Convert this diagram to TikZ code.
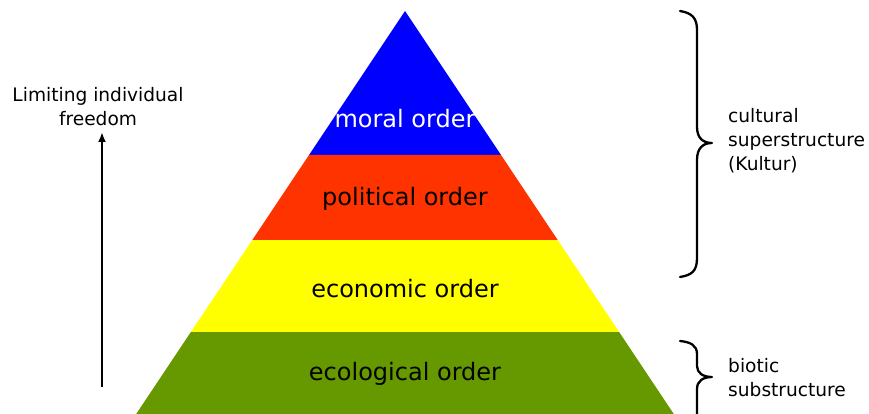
\documentclass[tikz,border=0pt]{standalone}
\usepackage{fontspec}
\setmainfont{DejaVu Sans}
\usetikzlibrary{arrows.meta}
\definecolor{lblue}{HTML}{0000FF}
\definecolor{lred}{HTML}{FF3300}
\definecolor{lyellow}{HTML}{FFFF00}
\definecolor{lgreen}{HTML}{669900}
\begin{document}
\begin{tikzpicture}[x=1pt,y=-1pt,
  biglabel/.style={anchor=base,inner sep=0pt,font=\fontsize{24}{28}\selectfont},
  sidelabel/.style={inner sep=0pt,font=\fontsize{18.6}{24}\selectfont,align=left},
  bracel/.style={line width=2.3pt,line cap=round,line join=round}]
\useasboundingbox (0,0) rectangle (869,414);
\begin{scope}
\clip (0,0) rectangle (869,414);
% pyramid layers
\fill[lblue]   (405,11) -- (501,155) -- (309,155) -- cycle;
\fill[lred]    (309,155) -- (501,155) -- (557.7,240) -- (252.3,240) -- cycle;
\fill[lyellow] (252.3,240) -- (557.7,240) -- (619.1,332) -- (190.9,332) -- cycle;
\fill[lgreen]  (190.9,332) -- (619.1,332) -- (673.8,414) -- (136.2,414) -- cycle;
% labels
\node[biglabel,text=white] (moral) at (405,128) {moral order};
\node[biglabel] (political) at (405,205) {political order};
\node[biglabel] (economic) at (405,297) {economic order};
\node[biglabel] (ecological) at (405,380) {ecological order};
% left arrow
\node[sidelabel,align=center] (limit) at (98,107) {Limiting individual\\freedom};
\coordinate (abot) at (102,387);
\coordinate (atop) at (102,132);
\draw[line width=2.2pt,-{Latex[length=10pt,width=8pt]}] (abot) -- (atop);
% braces
\draw[bracel] (680,11) .. controls (692,13) and (697,18) .. (697,30)
  -- (697,127) .. controls (697,138) and (703,143) .. (712,143)
  .. controls (703,143) and (697,148) .. (697,160)
  -- (697,258) .. controls (697,271) and (692,275) .. (680,277);
\node[sidelabel,anchor=west] (cult) at (728,141) {cultural\\superstructure\\(Kultur)};
\draw[bracel] (680,341) .. controls (690,342) and (697,345) .. (697,354)
  -- (697,366) .. controls (697,373) and (703,377) .. (712,377)
  .. controls (703,377) and (697,381) .. (697,389)
  -- (697,430);
\node[sidelabel,anchor=west] (biot) at (728,378) {biotic\\substructure};
\end{scope}
\end{tikzpicture}
\end{document}
